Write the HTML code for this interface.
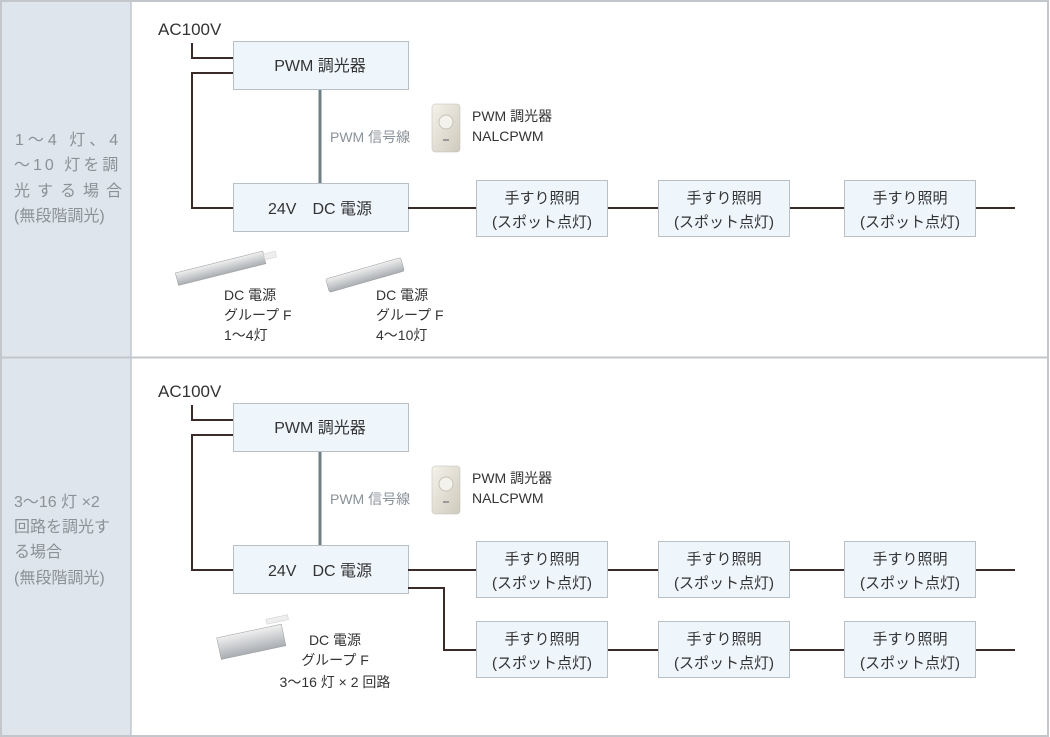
<!DOCTYPE html>
<html><head><meta charset="utf-8"><style>
html,body{margin:0;padding:0;background:#fff;}
svg{display:block;font-family:"Liberation Sans","Noto Sans CJK JP",sans-serif;}
</style></head><body>
<svg width="1050" height="737" viewBox="0 0 1050 737" xmlns="http://www.w3.org/2000/svg">
<defs>
<linearGradient id="sw" x1="0" y1="0" x2="1" y2="1"><stop offset="0" stop-color="#f4f2ea"/><stop offset="1" stop-color="#cfcabd"/></linearGradient>
<linearGradient id="ps" x1="0" y1="0" x2="0" y2="1"><stop offset="0" stop-color="#f0f0f0"/><stop offset="1" stop-color="#a9adb2"/></linearGradient>
</defs>
<rect x="1" y="1" width="1047" height="735" fill="#fff" stroke="#c3c7cb" stroke-width="2"/>
<rect x="2" y="2" width="129" height="733" fill="#dfe5ec"/>
<line x1="131" y1="2" x2="131" y2="735" stroke="#c3c7cb" stroke-width="1.5"/>
<line x1="2" y1="357.5" x2="1048" y2="357.5" stroke="#c3c7cb" stroke-width="2"/>

<g fill="#8a9298" font-size="16">
<text x="15" y="145" letter-spacing="4">1～4 灯、4</text>
<text x="14" y="170" letter-spacing="3">～10 灯を調</text>
<text x="14" y="196" letter-spacing="7">光する場合</text>
<text x="14" y="221">(無段階調光)</text>
<text x="14" y="507">3～16 灯 ×2</text>
<text x="14" y="532">回路を調光す</text>
<text x="14" y="557">る場合</text>
<text x="14" y="583">(無段階調光)</text>
</g>

<!-- section template -->
<g id="sec">
<text x="158" y="35" font-size="17" fill="#333">AC100V</text>
<polyline points="192,43 192,58 233,58" fill="none" stroke="#3a2a28" stroke-width="2"/>
<polyline points="233,73 192,73 192,208 233,208" fill="none" stroke="#3a2a28" stroke-width="2"/>
<line x1="320" y1="89" x2="320" y2="183" stroke="#6f7f86" stroke-width="3"/>
<text x="330" y="142" font-size="14" fill="#8a9298">PWM 信号線</text>
<rect x="233.5" y="41.5" width="175" height="48" fill="#eef5fb" stroke="#b8c0c6"/>
<text x="320" y="71" font-size="16" fill="#333" text-anchor="middle">PWM 調光器</text>
<rect x="233.5" y="183.5" width="175" height="48" fill="#eef5fb" stroke="#b8c0c6"/>
<text x="320" y="214" font-size="16" fill="#333" text-anchor="middle">24V　DC 電源</text>
<rect x="432" y="104" width="28" height="48" rx="3" fill="url(#sw)" stroke="#bbb" stroke-width="0.5"/>
<circle cx="446" cy="122" r="7" fill="#f4f2ec" stroke="#c8c3b6"/>
<rect x="443" y="139" width="6" height="2" fill="#999"/>
<text x="472" y="121" font-size="14" fill="#333">PWM 調光器</text>
<text x="472" y="141" font-size="14" fill="#333">NALCPWM</text>
</g>
<use href="#sec" x="0" y="362"/>

<g font-size="15" fill="#333" text-anchor="middle">
<!-- top lamp row -->
<line x1="408" y1="208" x2="1015" y2="208" stroke="#3a2a28" stroke-width="2"/>
<g id="lamps">
<rect x="476.5" y="180.5" width="131" height="56" fill="#eef5fb" stroke="#b8c0c6"/>
<text x="542" y="203">手すり照明</text><text x="542" y="227">(スポット点灯)</text>
<rect x="658.5" y="180.5" width="131" height="56" fill="#eef5fb" stroke="#b8c0c6"/>
<text x="724" y="203">手すり照明</text><text x="724" y="227">(スポット点灯)</text>
<rect x="844.5" y="180.5" width="131" height="56" fill="#eef5fb" stroke="#b8c0c6"/>
<text x="910" y="203">手すり照明</text><text x="910" y="227">(スポット点灯)</text>
</g>
<line x1="408" y1="570" x2="1015" y2="570" stroke="#3a2a28" stroke-width="2"/>
<use href="#lamps" x="0" y="361"/>
<polyline points="408,588 444,588 444,650 1015,650" fill="none" stroke="#3a2a28" stroke-width="2"/>
<use href="#lamps" x="0" y="441"/>
</g>

<!-- power supply images -->
<g transform="rotate(-14 220 270)">
<rect x="176" y="262" width="90" height="13" fill="url(#ps)" stroke="#999" stroke-width="0.5"/>
<rect x="266" y="265" width="12" height="6" fill="#eee" stroke="#ccc" stroke-width="0.5"/>
</g>
<g transform="rotate(-16 365 275)">
<rect x="326" y="268" width="78" height="14" rx="2" fill="url(#ps)" stroke="#999" stroke-width="0.5"/>
</g>
<g transform="rotate(-12 255 640)">
<rect x="218" y="630" width="66" height="22" fill="url(#ps)" stroke="#999" stroke-width="0.5"/>
<rect x="270" y="622" width="22" height="5" fill="#eee" stroke="#ccc" stroke-width="0.5"/>
</g>
<g font-size="14" fill="#333">
<text x="224" y="300">DC 電源</text><text x="224" y="320">グループ F</text><text x="224" y="340">1～4灯</text>
<text x="376" y="300">DC 電源</text><text x="376" y="320">グループ F</text><text x="376" y="340">4～10灯</text>
</g>
<g font-size="14" fill="#333" text-anchor="middle">
<text x="335" y="645">DC 電源</text><text x="335" y="665">グループ F</text><text x="335" y="687">3～16 灯 × 2 回路</text>
</g>
</svg>
</body></html>
